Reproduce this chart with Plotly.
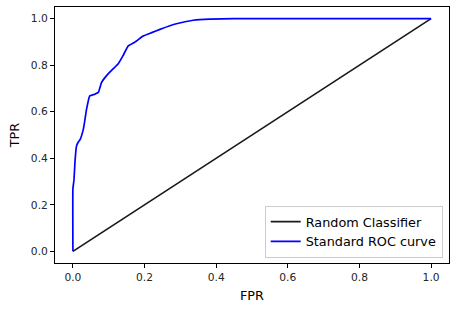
import plotly.graph_objects as go

# Data
random_fpr = [0.0, 1.0]
random_tpr = [0.0, 1.0]

roc_fpr = [0.0, 0.0, 0.003, 0.006, 0.010, 0.015, 0.020, 0.029, 0.033, 0.038, 0.047,
           0.061, 0.071, 0.080, 0.094, 0.112, 0.126, 0.140, 0.154, 0.173, 0.196,
           0.220, 0.243, 0.289, 0.336, 0.382, 0.450, 0.600, 0.800, 1.0]
roc_tpr = [0.0, 0.27, 0.307, 0.39, 0.452, 0.47, 0.48, 0.524, 0.56, 0.61, 0.668,
           0.675, 0.683, 0.726, 0.755, 0.784, 0.805, 0.841, 0.882, 0.899, 0.925,
           0.94, 0.954, 0.978, 0.993, 0.998, 1.0, 1.0, 1.0, 1.0]

tick_vals = [0.0, 0.2, 0.4, 0.6, 0.8, 1.0]
tick_text = ["0.0", "0.2", "0.4", "0.6", "0.8", "1.0"]

FONT = "DejaVu Sans"

fig = go.Figure()
fig.add_trace(go.Scatter(x=random_fpr, y=random_tpr, mode="lines",
                         name="Random Classifier",
                         line=dict(color="#1a1a1a", width=1.7)))
fig.add_trace(go.Scatter(x=roc_fpr, y=roc_tpr, mode="lines",
                         name="Standard ROC curve",
                         line=dict(color="#0000ff", width=1.7, shape="spline", smoothing=0.3)))

axis_common = dict(
    showline=True, mirror=True, linecolor="#000000", linewidth=1,
    ticks="outside", ticklen=4, tickwidth=1, tickcolor="#000000",
    showgrid=False, zeroline=False, automargin=False,
    tickvals=tick_vals, ticktext=tick_text,
    tickfont=dict(family=FONT, size=10.7, color="#262626"),
    range=[-0.05, 1.05],
)

fig.update_layout(
    width=457, height=311,
    margin=dict(l=55, r=8, t=7, b=48),
    paper_bgcolor="white", plot_bgcolor="white",
    font=dict(family=FONT, color="#000000"),
    xaxis=dict(**axis_common,
               title=dict(text="FPR", font=dict(family=FONT, size=12.8, color="#000000"),
                          standoff=8)),
    yaxis=dict(**axis_common,
               title=dict(text="TPR", font=dict(family=FONT, size=12.8, color="#000000"),
                          standoff=8)),
    legend=dict(x=0.984, y=0.02, xanchor="right", yanchor="bottom",
                bgcolor="rgba(255,255,255,0.8)", bordercolor="#cccccc", borderwidth=1,
                font=dict(family=FONT, size=12.8, color="#000000"),
                tracegroupgap=0, itemwidth=30),
    showlegend=True,
)

fig.write_html("out.html", config={"displayModeBar": False},
               post_script="document.body.style.margin='0';")
